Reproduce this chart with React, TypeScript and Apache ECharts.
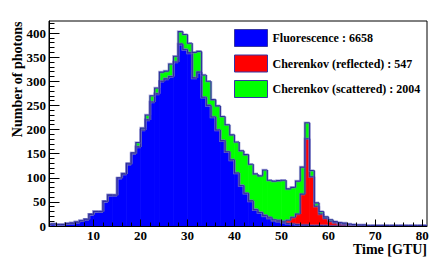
import React, { useEffect, useRef } from "react";
import * as echarts from "echarts";

// Lower edges of the 1 GTU wide bins: [0,1), [1,2), ... [80,81)
const BIN_LOW_EDGES: number[] = Array.from({ length: 81 }, (_, i) => i);

const FLUORESCENCE: number[] = [
  3,
  4, 3, 3, 5, 6, 8, 11, 14, 24, 30,
  30, 51, 64, 64, 99, 108, 128, 150, 164, 199,
  220, 257, 274, 300, 305, 310, 340, 377, 366, 359,
  307, 319, 267, 250, 226, 199, 177, 154, 137, 110,
  84, 68, 52, 34, 28, 21, 16, 11, 9, 7,
  5, 4, 3, 2, 2, 1, 1, 1, 1, 0,
  0, 0, 0, 0, 0, 0, 0, 0, 0, 0,
  0, 0, 0, 0, 0, 0, 0, 0, 0, 0,
];

const REFLECTED: number[] = [
  0,
  0, 0, 0, 0, 0, 0, 0, 0, 0, 0,
  0, 0, 0, 0, 0, 0, 0, 0, 0, 0,
  0, 0, 0, 0, 0, 0, 0, 0, 0, 0,
  0, 0, 0, 0, 0, 0, 0, 0, 0, 0,
  0, 0, 0, 0, 0, 1, 2, 2, 3, 3,
  7, 14, 22, 64, 179, 101, 40, 24, 15, 10,
  7, 5, 4, 3, 2, 2, 2, 1, 1, 1,
  1, 1, 1, 1, 1, 1, 1, 1, 1, 1,
];

const SCATTERED: number[] = [
  0,
  0, 0, 0, 0, 0, 0, 0, 0, 0, 0,
  0, 0, 0, 0, 1, 0, 2, 2, 9, 4,
  10, 13, 12, 19, 16, 26, 12, 26, 31, 20,
  53, 43, 46, 50, 36, 50, 50, 56, 52, 64,
  72, 80, 76, 74, 76, 94, 77, 80, 82, 85,
  65, 62, 68, 56, 33, 13, 7, 5, 3, 3,
  2, 2, 2, 1, 1, 0, 0, 0, 0, 0,
  0, 0, 0, 0, 0, 0, 0, 0, 0, 0,
];

const SERIES_NAMES: string[] = ["Fluorescence", "Cherenkov (reflected)", "Cherenkov (scattered)"];
const SERIES_TOTALS: number[] = [6658, 547, 2004];
const SERIES_COLORS: string[] = ["#0000ff", "#ff0000", "#00ff00"];

const X_TICKS: number[] = [10, 20, 30, 40, 50, 60, 70, 80];
const X_MINOR: number[] = [2, 4, 6, 8, 12, 14, 16, 18, 22, 24, 26, 28, 32, 34, 36, 38, 42, 44, 46, 48, 52, 54, 56, 58, 62, 64, 66, 68, 72, 74, 76, 78];
const Y_TICKS: number[] = [0, 50, 100, 150, 200, 250, 300, 350, 400];
const Y_MINOR: number[] = [10, 20, 30, 40, 60, 70, 80, 90, 110, 120, 130, 140, 160, 170, 180, 190, 210, 220, 230, 240, 260, 270, 280, 290, 310, 320, 330, 340, 360, 370, 380, 390, 410, 420];

const FONT = '"Liberation Serif", "Times New Roman", serif';
const BIN_WIDTH = 1;

function buildOption() {
  const layers = [FLUORESCENCE, REFLECTED, SCATTERED];
  const bottoms: number[][] = [];
  const tops: number[][] = [];
  let running = BIN_LOW_EDGES.map(() => 0);
  layers.forEach((vals) => {
    bottoms.push(running.slice());
    running = running.map((r, i) => r + vals[i]);
    tops.push(running.slice());
  });

  const series: any[] = [];
  layers.forEach((_, li) => {
    const color = SERIES_COLORS[li];
    series.push({
      name: SERIES_NAMES[li],
      type: "custom",
      xAxisIndex: 0,
      yAxisIndex: 0,
      clip: true,
      z: 2,
      itemStyle: { color },
      encode: { x: 0, y: [1, 2] },
      data: BIN_LOW_EDGES.map((x, i) => [x, bottoms[li][i], tops[li][i]]),
      renderItem: (params: any, api: any) => {
        const x = api.value(0);
        const b = api.value(1);
        const t = api.value(2);
        if (t <= b) return null;
        const p0 = api.coord([x, t]);
        const p1 = api.coord([x + BIN_WIDTH, b]);
        return {
          type: "rect",
          shape: { x: p0[0] - 0.3, y: p0[1], width: p1[0] - p0[0] + 0.6, height: p1[1] - p0[1] },
          style: { fill: color },
        };
      },
    });
  });
  // outlines (step lines on top of each cumulative histogram)
  layers.forEach((_, li) => {
    series.push({
      name: SERIES_NAMES[li] + " outline",
      type: "custom",
      xAxisIndex: 0,
      yAxisIndex: 0,
      clip: true,
      z: 3 + li,
      encode: { x: 0, y: 1 },
      data: BIN_LOW_EDGES.map((x, i) => [x, tops[li][i], i === 0 ? 0 : tops[li][i - 1]]),
      renderItem: (params: any, api: any) => {
        const x = api.value(0);
        const t = api.value(1);
        const pt = api.value(2);
        const pts = [api.coord([x, pt]), api.coord([x, t]), api.coord([x + BIN_WIDTH, t])];
        return {
          type: "group",
          children: [
            { type: "polyline", shape: { points: pts }, style: { stroke: "rgba(120,120,195,0.55)", lineWidth: 2.6, fill: null } },
            { type: "polyline", shape: { points: pts }, style: { stroke: "#2e2e9e", lineWidth: 1.1, fill: null } },
          ],
        };
      },
    });
  });

  const labelStyle = { fontFamily: FONT, fontWeight: "bold", fontSize: 13, lineHeight: 12, color: "#000" };

  return {
    animation: false,
    backgroundColor: "#ffffff",
    grid: { left: 49, right: 5, top: 21, bottom: 32, show: true, borderColor: "#000", borderWidth: 1, backgroundColor: "transparent" },
    legend: {
      orient: "vertical",
      left: 234,
      top: 29,
      padding: 0,
      itemWidth: 33,
      itemHeight: 17,
      itemGap: 7.5,
      selectedMode: false,
      data: SERIES_NAMES.map((n, i) => ({
        name: n,
        icon: "rect",
        itemStyle: { color: SERIES_COLORS[i], borderColor: "#3535a5", borderWidth: 1 },
      })),
      formatter: (name: string) => `${name} : ${SERIES_TOTALS[SERIES_NAMES.indexOf(name)]}`,
      textStyle: { fontFamily: FONT, fontWeight: "bold", fontSize: 12, color: "#000" },
    },
    xAxis: [
      {
        type: "value",
        min: 0.5,
        max: 81,
        position: "bottom",
        z: 10,
        axisLine: { show: true, lineStyle: { color: "#000", width: 1 } },
        axisTick: { show: true, inside: true, length: 6.5, lineStyle: { color: "#000", width: 1 }, customValues: X_TICKS },
        axisLabel: { show: true, margin: 3, customValues: X_TICKS, ...labelStyle },
        splitLine: { show: false },
      },
      {
        type: "value",
        min: 0.5,
        max: 81,
        position: "bottom",
        offset: 0,
        z: 10,
        axisLine: { show: false },
        axisTick: { show: true, inside: true, length: 3.5, lineStyle: { color: "#000", width: 1 }, customValues: X_MINOR },
        axisLabel: { show: false },
        splitLine: { show: false },
      },
    ],
    yAxis: [
      {
        type: "value",
        min: 0,
        max: 425,
        position: "left",
        z: 10,
        axisLine: { show: true, lineStyle: { color: "#000", width: 1 } },
        axisTick: { show: true, inside: true, length: 10.5, lineStyle: { color: "#000", width: 1 }, customValues: Y_TICKS },
        axisLabel: { show: true, margin: 3, customValues: Y_TICKS, ...labelStyle },
        splitLine: { show: false },
      },
      {
        type: "value",
        min: 0,
        max: 425,
        position: "left",
        offset: 0,
        z: 10,
        axisLine: { show: false },
        axisTick: { show: true, inside: true, length: 5.5, lineStyle: { color: "#000", width: 1 }, customValues: Y_MINOR },
        axisLabel: { show: false },
        splitLine: { show: false },
      },
    ],
    graphic: [
      {
        type: "text",
        x: 427,
        y: 249,
        style: { text: "Time [GTU]", align: "right", verticalAlign: "middle", fontFamily: FONT, fontWeight: "bold", fontSize: 14, lineHeight: 13, fill: "#000" },
      },
      {
        type: "text",
        x: 17,
        y: 21.5,
        rotation: Math.PI / 2,
        style: { text: "Number of photons", align: "right", verticalAlign: "middle", fontFamily: FONT, fontWeight: "bold", fontSize: 14, fill: "#000" },
      },
    ],
    series,
  };
}

export default function App() {
  const ref = useRef<HTMLDivElement>(null);
  useEffect(() => {
    if (!ref.current) return;
    const chart = echarts.init(ref.current, null, { renderer: "svg" });
    chart.setOption(buildOption() as any);
    return () => {
      chart.dispose();
    };
  }, []);
  return (
    <div
      ref={ref}
      style={{ position: "fixed", left: 0, top: 0, width: 432, height: 258, background: "#ffffff" }}
    />
  );
}
